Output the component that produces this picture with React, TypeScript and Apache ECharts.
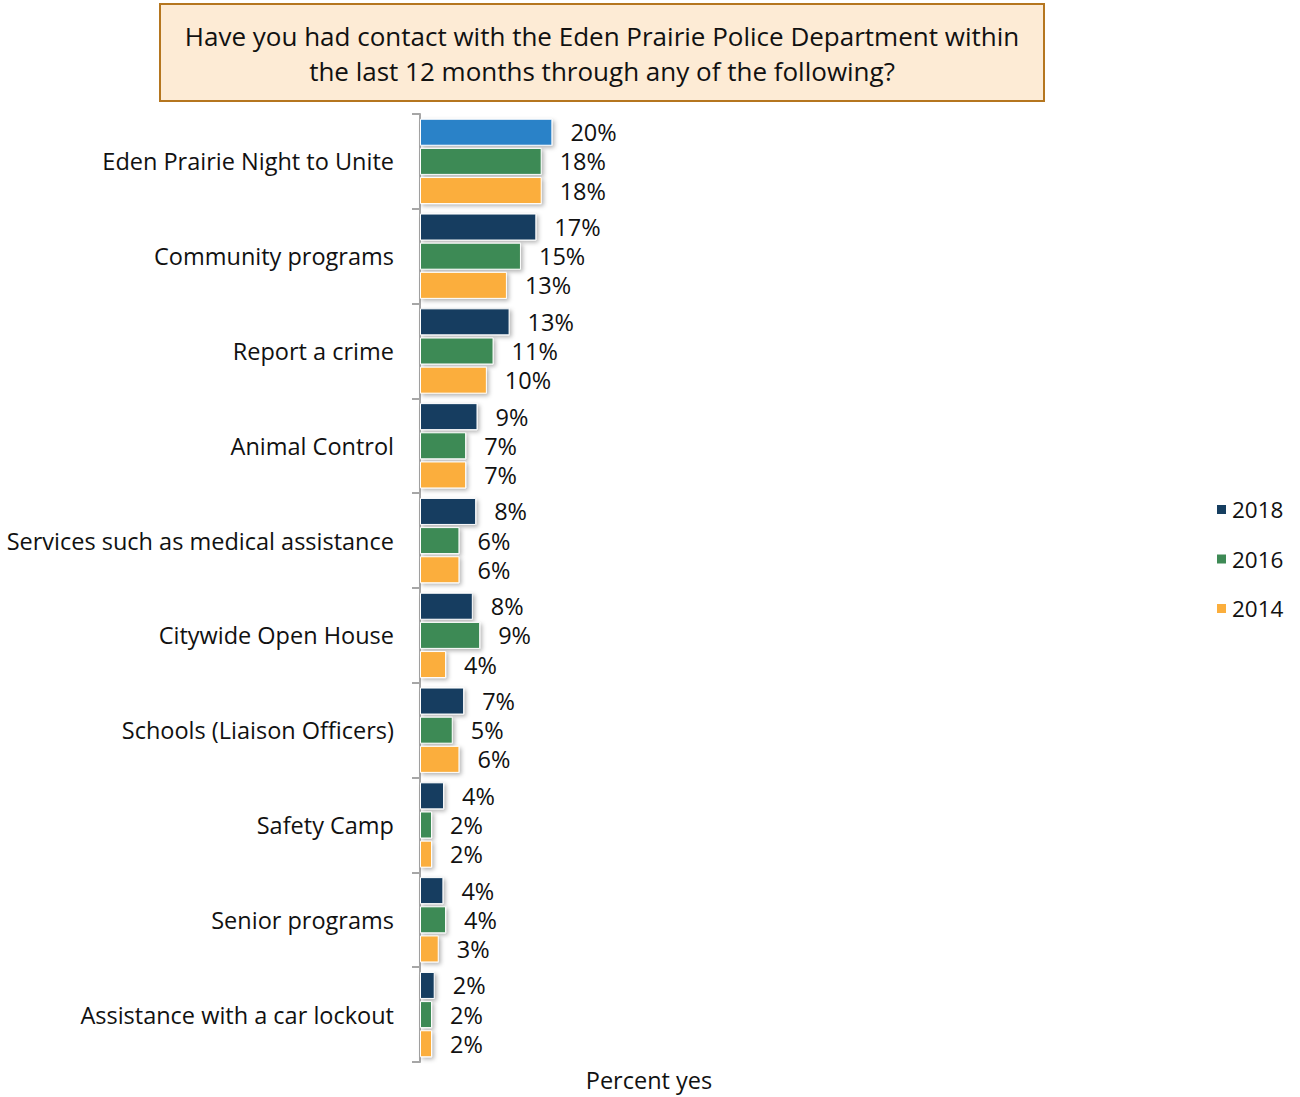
import React, { useEffect, useRef } from "react";
import * as echarts from "echarts";

const categories = [
  "Eden Prairie Night to Unite",
  "Community programs",
  "Report a crime",
  "Animal Control",
  "Services such as medical assistance",
  "Citywide Open House",
  "Schools (Liaison Officers)",
  "Safety Camp",
  "Senior programs",
  "Assistance with a car lockout",
];

const seriesNames = ["2018", "2016", "2014"];
const values2018 = [19.8, 17.4, 13.4, 8.6, 8.4, 7.9, 6.6, 3.6, 3.5, 2.2];
const values2016 = [18.2, 15.1, 11.0, 6.9, 5.9, 9.0, 4.9, 1.8, 3.9, 1.8];
const values2014 = [18.2, 13.0, 10.0, 6.9, 5.9, 3.9, 5.9, 1.8, 2.8, 1.8];

const titleLines = [
  "Have you had contact with the Eden Prairie Police Department within",
  "the last 12 months through any of the following?",
];
const axisName = "Percent yes";

const colors = ["#163e60", "#3e8a55", "#fbae3c"];
const highlightColor = "#2a82c8";
const FONT = "'Open Sans', sans-serif";

export default function App() {
  const ref = useRef<HTMLDivElement>(null);
  useEffect(() => {
    document.body.style.margin = "0";
    const chart = echarts.init(ref.current!, null, { renderer: "svg" });
    const itemStyleBase = {
      borderColor: "#ffffff",
      borderWidth: 1,
      shadowBlur: 4,
      shadowOffsetX: 2,
      shadowOffsetY: 2,
      shadowColor: "rgba(0,0,0,0.3)",
    };
    const mk = (name: string, data: any[], color: string) => ({
      name,
      type: "bar",
      data,
      barGap: "8%",
      barCategoryGap: "10%",
      itemStyle: { ...itemStyleBase, color },
      label: {
        show: true,
        position: "right",
        distance: 18,
        color: "#111",
        fontSize: 23.5,
        fontFamily: FONT,
        formatter: (p: any) => Math.round(p.value) + "%",
      },
    });
    chart.setOption({
      animation: false,
      textStyle: { fontFamily: FONT },
      color: colors,
      graphic: [
        {
          type: "rect",
          shape: { x: 160, y: 4, width: 884, height: 97 },
          style: { fill: "#fdebd5", stroke: "#b5761f", lineWidth: 2 },
        },
        {
          type: "text",
          x: 602,
          y: 53,
          style: {
            text: titleLines.join("\n"),
            fontSize: 26,
            fontFamily: FONT,
            fill: "#111",
            align: "center",
            verticalAlign: "middle",
            lineHeight: 35,
          },
        },
      ],
      legend: {
        data: seriesNames,
        orient: "vertical",
        left: 1215,
        top: 498,
        padding: 0,
        itemWidth: 11,
        itemHeight: 11,
        itemGap: 26.5,
        icon: "rect",
        textStyle: { fontSize: 22.5, color: "#111", fontFamily: FONT },
      },
      grid: { left: 420, top: 114, width: 458, height: 953, containLabel: false },
      xAxis: {
        type: "value",
        min: 0,
        max: 68.5,
        axisLine: { show: false },
        axisTick: { show: false },
        axisLabel: { show: false },
        splitLine: { show: false },
        name: axisName,
        nameLocation: "middle",
        nameGap: 6,
        nameTextStyle: { fontSize: 23.5, color: "#111", fontFamily: FONT, verticalAlign: "top" },
      },
      yAxis: {
        type: "category",
        data: categories,
        inverse: true,
        boundaryGap: true,
        axisLine: { show: true, lineStyle: { color: "#a6a6a6", width: 2 } },
        axisTick: { show: true, interval: 0, inside: false, length: 8, lineStyle: { color: "#a6a6a6", width: 2 } },
        axisLabel: { margin: 26, fontSize: 23.5, color: "#111", fontFamily: FONT, interval: 0 },
      },
      series: [
        mk(
          seriesNames[0],
          values2018.map((v, i) => (i === 0 ? { value: v, itemStyle: { color: highlightColor } } : v)),
          colors[0]
        ),
        mk(seriesNames[1], values2016, colors[1]),
        mk(seriesNames[2], values2014, colors[2]),
      ],
    });
    return () => chart.dispose();
  }, []);
  return <div ref={ref} style={{ width: 1300, height: 1097 }} />;
}
